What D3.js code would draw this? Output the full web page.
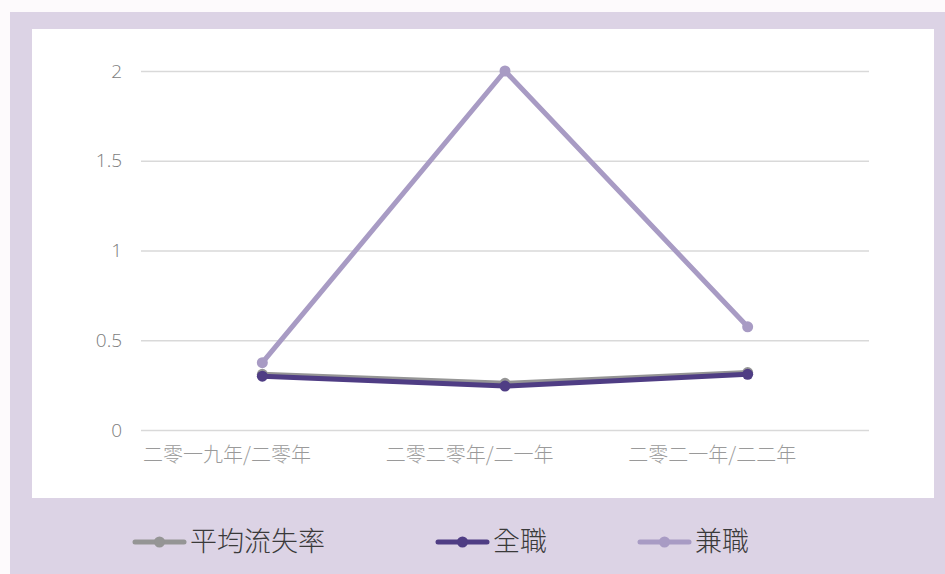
<!DOCTYPE html>
<html><head><meta charset="utf-8">
<script src="https://cdn.jsdelivr.net/npm/d3@7"></script>
<style>
html,body{margin:0;padding:0;background:#fdfafc;}
svg{display:block;}
</style></head>
<body>
<svg id="c" width="945" height="574"></svg>
<script>
const categories = ["二零一九年/二零年", "二零二零年/二一年", "二零二一年/二二年"];
const avgRate = [0.31, 0.26, 0.32];
const fullTime = [0.30, 0.245, 0.31];
const partTime = [0.375, 2.0, 0.575];
const yTicks = [0, 0.5, 1, 1.5, 2];
const seriesNames = ["平均流失率", "全職", "兼職"];
const seriesColors = ["#959595", "#4f3d84", "#a89bc4"];

const svg = d3.select("#c");
svg.append("rect").attr("x",10).attr("y",12).attr("width",935).attr("height",562).attr("fill","#dcd3e5");
svg.append("rect").attr("x",32).attr("y",29).attr("width",902).attr("height",469).attr("fill","#ffffff");

const xb = d3.scaleBand().domain(categories).range([141,869]);
const x = d => xb(d) + xb.bandwidth()/2;
const y = d3.scaleLinear().domain([0,2]).range([430,71]);

const fontCJK = "'Noto Sans CJK TC','Noto Sans CJK SC',sans-serif";
const fontNum = "'Open Sans','Noto Sans',sans-serif";

// grid
const yAxis = d3.axisLeft(y).tickValues(yTicks).tickSize(-(869-141)).tickFormat(d3.format("~g")).tickPadding(19);
const gy = svg.append("g").attr("transform","translate(141,0)").call(yAxis);
gy.select(".domain").remove();
gy.selectAll(".tick line").attr("stroke","#d9d9d9").attr("stroke-width",1.5);
gy.selectAll(".tick text").attr("fill","#7c7c7c").attr("font-size",19).attr("font-weight",300).attr("font-family",fontNum);

const xAxis = d3.axisBottom(xb).tickSize(0).tickPadding(18);
const gx = svg.append("g").attr("transform","translate(0,430)").call(xAxis);
gx.select(".domain").remove();
gx.selectAll(".tick text").attr("fill","#9a9a9a").attr("font-size",20).attr("font-weight",300).attr("font-family",fontCJK)
  .attr("text-anchor","start").attr("x",-xb.bandwidth()/2 + 2);

const data = [avgRate, fullTime, partTime];
const line = d3.line().x((d,i)=>x(categories[i])).y(d=>y(d));
data.forEach((vals,k)=>{
  const g = svg.append("g");
  g.append("path").datum(vals).attr("d",line).attr("fill","none")
    .attr("stroke",seriesColors[k]).attr("stroke-width",5).attr("stroke-linejoin","round");
  g.selectAll("circle").data(vals).enter().append("circle")
    .attr("cx",(d,i)=>x(categories[i])).attr("cy",d=>y(d)).attr("r",5.5).attr("fill",seriesColors[k]);
});

// legend
const legendX = [133, 436, 638];
const ly = 542;
seriesNames.forEach((name,k)=>{
  const g = svg.append("g").attr("transform",`translate(${legendX[k]},${ly})`);
  g.append("line").attr("x1",2).attr("x2",51).attr("y1",0).attr("y2",0)
    .attr("stroke",seriesColors[k]).attr("stroke-width",5).attr("stroke-linecap","round");
  g.append("circle").attr("cx",26.5).attr("cy",0).attr("r",5.5).attr("fill",seriesColors[k]);
  g.append("text").attr("x",57).attr("y",0).attr("dy","0.35em").text(name)
    .attr("font-size",27).attr("fill","#3a3a3a").attr("font-weight",300).attr("font-family",fontCJK);
});
</script>
</body></html>
